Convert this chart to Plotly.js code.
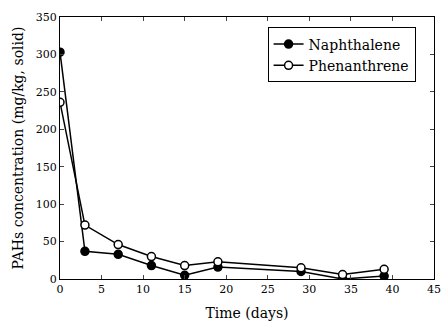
<!DOCTYPE html>
<html><head><meta charset="utf-8">
<script src="https://cdn.plot.ly/plotly-3.0.1.min.js"></script>
<style>html,body{margin:0;padding:0;background:#fff}#plot{width:441px;height:325px}</style>
</head><body><div id="plot"></div>
<script>
const days = [0, 3, 7, 11, 15, 19, 29, 34, 39];
const naphthalene = [303, 37, 33, 18, 5, 16, 10, 0, 4];
const phenanthrene = [236, 72, 46, 30, 18, 23, 15, 6, 13];
const seriesNames = ["Naphthalene", "Phenanthrene"];

const traces = [
  {x: days, y: naphthalene, name: seriesNames[0], mode: 'lines+markers',
   line: {color: '#000', width: 1.5},
   marker: {symbol: 'circle', size: 8, color: '#000', line: {color: '#000', width: 1.5}}},
  {x: days, y: phenanthrene, name: seriesNames[1], mode: 'lines+markers',
   line: {color: '#000', width: 1.5},
   marker: {symbol: 'circle', size: 8, color: '#fff', line: {color: '#000', width: 1.5}}}
];
const fam = 'DejaVu Serif, serif';
const layout = {
  width: 441, height: 325,
  margin: {l: 60, r: 7, t: 17, b: 46},
  paper_bgcolor: '#fff', plot_bgcolor: '#fff',
  font: {family: fam, color: '#000', size: 11},
  showlegend: true,
  legend: {x: 0.555, y: 0.96, xanchor: 'left', yanchor: 'top',
    bordercolor: '#000', borderwidth: 1, bgcolor: '#fff',
    font: {family: fam, size: 14, color: '#000'}, tracegroupgap: 0},
  xaxis: {range: [0, 45], dtick: 5, tick0: 0, ticks: 'inside', ticklen: 4,
    showline: true, linecolor: '#000', linewidth: 1, mirror: 'ticks',
    showgrid: false, zeroline: false,
    title: {text: 'Time (days)', font: {family: fam, size: 14}, standoff: 12}},
  yaxis: {range: [0, 350], dtick: 50, tick0: 0, ticks: 'inside', ticklen: 4,
    showline: true, linecolor: '#000', linewidth: 1, mirror: 'ticks',
    showgrid: false, zeroline: false,
    title: {text: 'PAHs concentration (mg/kg, solid)', font: {family: fam, size: 14}, standoff: 8}}
};
Plotly.newPlot('plot', traces, layout, {displayModeBar: false, staticPlot: true});
</script></body></html>
